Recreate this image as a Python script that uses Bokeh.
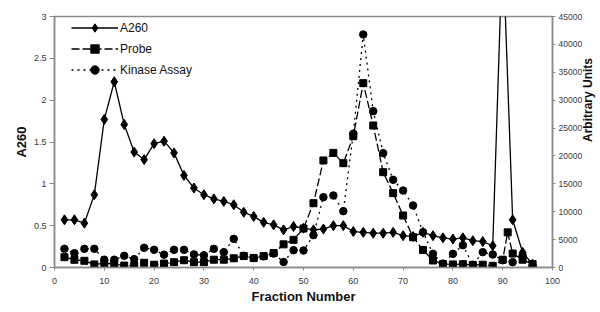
import numpy as np
from bokeh.plotting import figure
from bokeh.models import Range1d, LinearAxis, Legend, LegendItem, FixedTicker
from bokeh.embed import file_html
from bokeh.resources import INLINE

# ---- data ----
a260_x = list(range(2, 90, 2)) + [90, 92, 94, 96]
a260_y = [0.57, 0.57, 0.53, 0.87, 1.77, 2.22, 1.71, 1.38, 1.29, 1.48, 1.51, 1.37,
          1.10, 0.95, 0.87, 0.82, 0.79, 0.75, 0.66, 0.61, 0.54, 0.51, 0.45, 0.49,
          0.47, 0.45, 0.46, 0.50, 0.50, 0.43, 0.42, 0.41, 0.41, 0.42, 0.38, 0.37,
          0.42, 0.38, 0.355, 0.34, 0.355, 0.32, 0.31, 0.26,
          3.9, 0.57, 0.18, 0.04]

probe_x = list(range(2, 90, 2)) + [90, 91, 92, 94, 96]
probe_y = [1850, 1380, 1200, 550, 750, 650, 350, 350, 850, 500, 700, 950,
           1300, 950, 950, 1400, 1400, 1650, 2050, 1700, 2050, 2600, 4150, 4960,
           7000, 11530, 19190, 20550, 18700, 23550, 33050, 25460, 17090, 13330, 9320, 5440,
           3150, 1255, 600, 550, 600, 450, 500, 300,
           1400, 6300, 2500, 1400, 600]

kinase_x = list(range(2, 90, 2)) + [90, 92, 94, 96]
kinase_y = [3350, 2570, 3350, 3350, 1400, 1400, 2100, 1500, 3530, 3170, 2300, 3170,
            3170, 2350, 2200, 3350, 2750, 5140, 2100, 1700, 2000, 2500, 1000, 3100,
            3050, 5800, 12610, 12910, 10100, 24000, 41780, 28030, 20500, 15720, 13800, 11120,
            6330, 2450, 700, 2450, 4000, 500, 2750, 2330,
            1300, 950, 2150, 360]

x_ticks = list(range(0, 101, 10))
left_ticks = [0, 0.5, 1, 1.5, 2, 2.5, 3]
right_ticks = list(range(0, 45001, 5000))

FONT = "Liberation Sans"
AXIS_COL = "#8a8a8a"
TICK_COL = "#3a3a3a"

p = figure(frame_width=498, frame_height=251, output_backend="svg", toolbar_location=None,
           x_range=Range1d(0, 100), y_range=Range1d(0, 3),
           min_border_left=54, min_border_right=46, min_border_top=16, min_border_bottom=41)
p.extra_y_ranges = {"au": Range1d(0, 45000)}

p.xgrid.visible = False
p.ygrid.visible = False
p.outline_line_color = AXIS_COL
p.outline_line_width = 1.5
p.background_fill_color = "white"
p.border_fill_color = "white"

# x axis
xa = p.xaxis[0]
xa.ticker = FixedTicker(ticks=x_ticks)
xa.minor_tick_line_color = None
xa.major_tick_in = 0
xa.major_tick_out = 3
xa.axis_line_color = AXIS_COL
xa.axis_line_width = 1.5
xa.major_tick_line_color = AXIS_COL
xa.major_label_text_font = FONT
xa.major_label_text_font_size = "9px"
xa.major_label_text_color = TICK_COL
xa.major_label_standoff = 7
xa.axis_label = "Fraction Number"
xa.axis_label_text_font = FONT
xa.axis_label_text_font_style = "bold"
xa.axis_label_text_font_size = "13px"
xa.axis_label_text_color = "#111111"
xa.axis_label_standoff = 2

# left axis
ya = p.yaxis[0]
ya.ticker = FixedTicker(ticks=left_ticks)
ya.minor_tick_line_color = None
ya.major_tick_in = 0
ya.major_tick_out = 5
ya.axis_line_color = AXIS_COL
ya.axis_line_width = 1.5
ya.major_tick_line_color = AXIS_COL
ya.major_label_text_font = FONT
ya.major_label_text_font_size = "9px"
ya.major_label_text_color = TICK_COL
ya.major_label_standoff = 3
ya.axis_label = "A260"
ya.axis_label_text_font = FONT
ya.axis_label_text_font_style = "bold"
ya.axis_label_text_font_size = "13px"
ya.axis_label_text_color = "#111111"
ya.axis_label_standoff = 2

# right axis
ra = LinearAxis(y_range_name="au", ticker=FixedTicker(ticks=right_ticks))
ra.minor_tick_line_color = None
ra.major_tick_in = 0
ra.major_tick_out = 3
ra.axis_line_color = AXIS_COL
ra.axis_line_width = 1.5
ra.major_tick_line_color = AXIS_COL
ra.major_label_text_font = FONT
ra.major_label_text_font_size = "8.5px"
ra.major_label_text_color = TICK_COL
ra.major_label_standoff = 3
ra.axis_label = "Arbitrary Units"
ra.axis_label_text_font = FONT
ra.axis_label_text_font_style = "bold"
ra.axis_label_text_font_size = "12px"
ra.axis_label_text_color = "#111111"
ra.axis_label_standoff = 3
try:
    ra.axis_label_orientation = np.pi / 2
except Exception:
    pass
p.add_layout(ra, "right")

# series
l1 = p.line(a260_x, a260_y, line_color="black", line_width=1.3)
m1 = p.scatter(a260_x, a260_y, marker="diamond", size=10,
               fill_color="black", line_color="black")

l2 = p.line(probe_x, probe_y, y_range_name="au", line_color="black", line_width=1.3,
            line_dash="8 3")
m2 = p.scatter(probe_x, probe_y, y_range_name="au", marker="square", size=7,
               fill_color="black", line_color="black")

l3 = p.line(kinase_x, kinase_y, y_range_name="au", line_color="black", line_width=1.3,
            line_dash="2 4")
m3 = p.scatter(kinase_x, kinase_y, y_range_name="au", marker="circle", size=7.5,
               fill_color="black", line_color="black")

legend = Legend(items=[LegendItem(label="A260", renderers=[l1, m1]),
                       LegendItem(label="Probe", renderers=[l2, m2]),
                       LegendItem(label="Kinase Assay", renderers=[l3, m3])],
                location=(17, 187), orientation="vertical",
                glyph_width=47, glyph_height=21, label_height=21, spacing=0,
                padding=0, margin=0, label_standoff=2,
                label_text_font=FONT, label_text_font_size="12px",
                label_text_color="#111111",
                background_fill_alpha=0, border_line_color=None)
p.add_layout(legend, "center")

open("out.html", "w").write(file_html(p, INLINE))
